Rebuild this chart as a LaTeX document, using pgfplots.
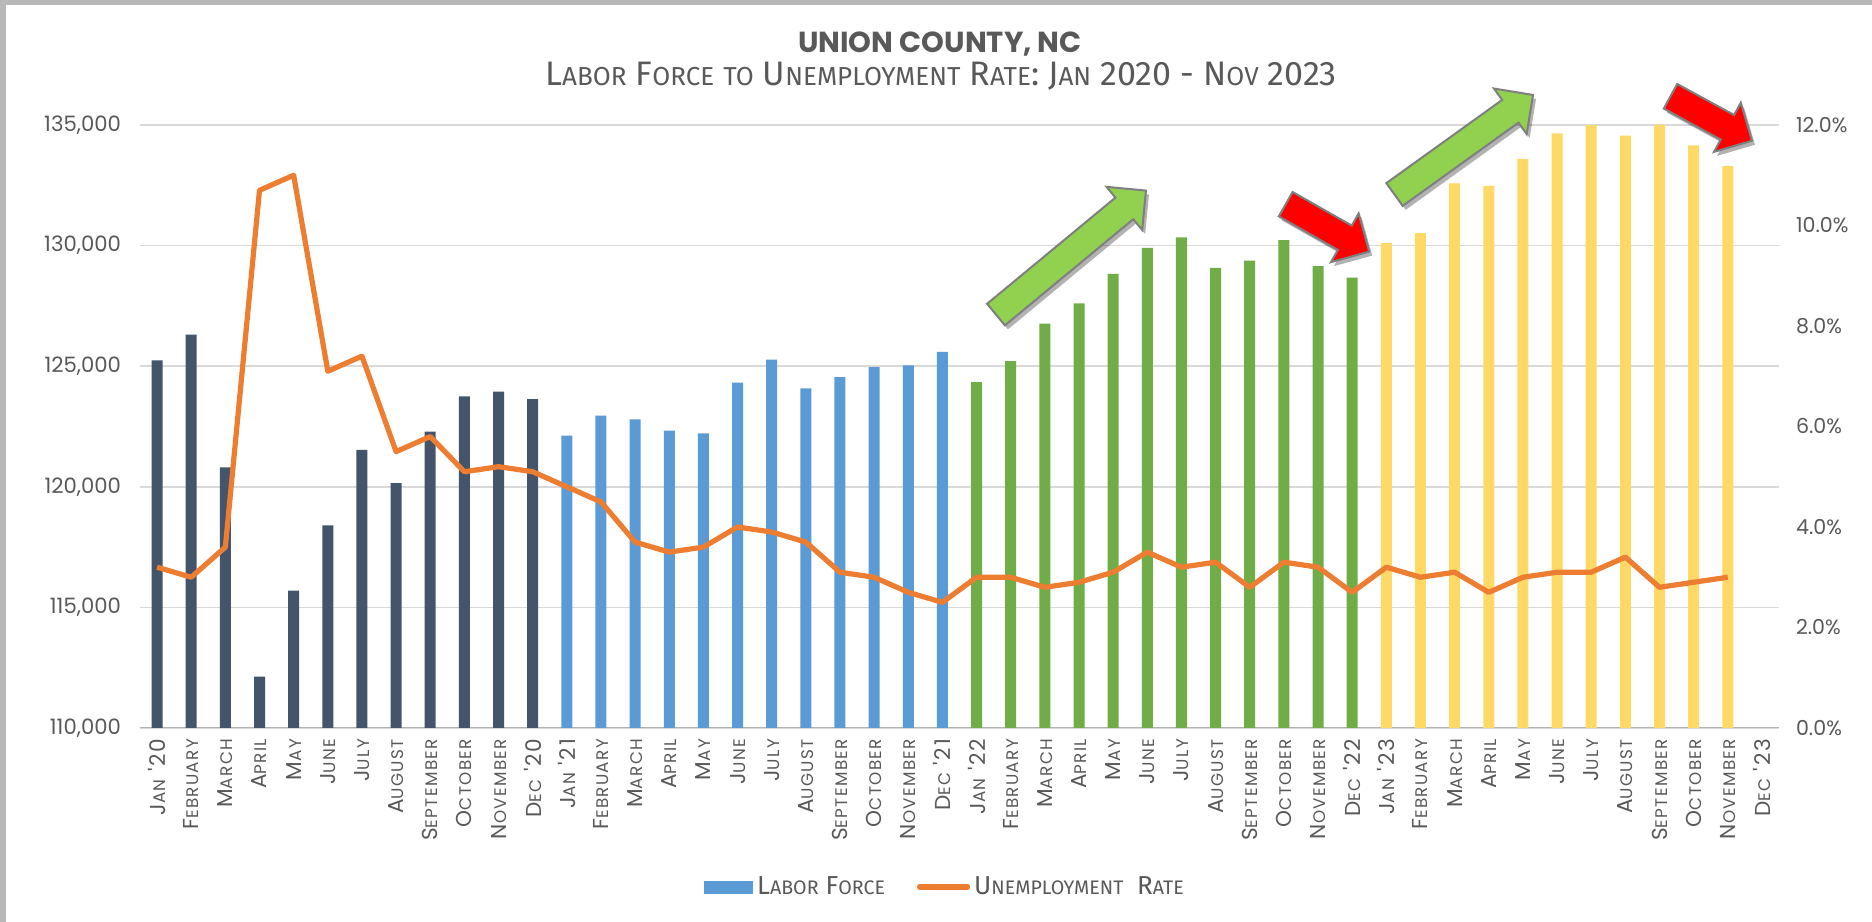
\documentclass[border=0pt]{standalone}
\usepackage{fontspec}
\setmainfont{Poppins}
\newfontfamily\subfont{Fira Sans}
\newfontfamily\tickfont[LetterSpace=8]{Poppins}
\usepackage{pgfplots}
\pgfplotsset{compat=1.18}
\usetikzlibrary{shadows}
\definecolor{navy}{HTML}{44546A}
\definecolor{lblue}{HTML}{5B9BD5}
\definecolor{lgreen}{HTML}{70AD47}
\definecolor{lyellow}{HTML}{FFD966}
\definecolor{lorange}{HTML}{ED7D31}
\definecolor{txt}{HTML}{595959}
\definecolor{gridc}{HTML}{D9D9D9}
\definecolor{agreen}{HTML}{92D050}
\definecolor{ared}{HTML}{FF0000}
\definecolor{agray}{HTML}{7F7F7F}

\newcommand{\fsc}[2]{#1{\fontsize{8.4bp}{9bp}\selectfont #2}}
\newcommand{\mJan}[1]{\fsc{J}{AN} '#1}
\newcommand{\mFeb}{\fsc{F}{EBRUARY}}
\newcommand{\mMar}{\fsc{M}{ARCH}}
\newcommand{\mApr}{\fsc{A}{PRIL}}
\newcommand{\mMay}{\fsc{M}{AY}}
\newcommand{\mJun}{\fsc{J}{UNE}}
\newcommand{\mJul}{\fsc{J}{ULY}}
\newcommand{\mAug}{\fsc{A}{UGUST}}
\newcommand{\mSep}{\fsc{S}{EPTEMBER}}
\newcommand{\mOct}{\fsc{O}{CTOBER}}
\newcommand{\mNov}{\fsc{N}{OVEMBER}}
\newcommand{\mDec}[1]{\fsc{D}{EC} '#1}
\newcommand{\ssc}[2]{#1{\fontsize{13bp}{15bp}\selectfont #2}}
\newcommand{\lsc}[2]{#1{\fontsize{9.8bp}{11bp}\selectfont #2}}

\newcommand{\blockarrow}[5]{%
  \draw[fill=#5, draw=agray, line width=1bp, line join=miter,
        drop shadow={opacity=0.3, shadow xshift=1.5bp, shadow yshift=-2bp, fill=black},
        shift={(#1bp,#2bp)}, rotate=#3]
   (0,-7bp) -- ({#4bp-14bp},-7bp) -- ({#4bp-14bp},-14bp) -- (#4bp,0)
   -- ({#4bp-14bp},14bp) -- ({#4bp-14bp},7bp) -- (0,7bp) -- cycle;}

\pgfplotstableread{
x y
0 125240
1 126310
2 120810
3 112130
4 115700
5 118400
6 121530
7 120150
8 122290
9 123750
10 123950
11 123630
}\tabA
\pgfplotstableread{
x y
12 122120
13 122950
14 122800
15 122330
16 122220
17 124320
18 125270
19 124080
20 124550
21 124960
22 125030
23 125590
}\tabB
\pgfplotstableread{
x y
24 124340
25 125210
26 126760
27 127600
28 128830
29 129910
30 130340
31 129080
32 129380
33 130230
34 129150
35 128670
}\tabC
\pgfplotstableread{
x y
36 130100
37 130520
38 132580
39 132480
40 133600
41 134650
42 134990
43 134560
44 135000
45 134160
46 133300
}\tabD
\pgfplotstableread{
x r
0 3.2
1 3.0
2 3.6
3 10.7
4 11.0
5 7.1
6 7.4
7 5.5
8 5.8
9 5.1
10 5.2
11 5.1
12 4.8
13 4.5
14 3.7
15 3.5
16 3.6
17 4.0
18 3.9
19 3.7
20 3.1
21 3.0
22 2.7
23 2.5
24 3.0
25 3.0
26 2.8
27 2.9
28 3.1
29 3.5
30 3.2
31 3.3
32 2.8
33 3.3
34 3.2
35 2.7
36 3.2
37 3.0
38 3.1
39 2.7
40 3.0
41 3.1
42 3.1
43 3.4
44 2.8
45 2.9
46 3.0
}\tabR

\begin{document}
\begin{tikzpicture}
\useasboundingbox (0,0) rectangle (936bp,461bp);
\fill[white] (0,0) rectangle (936bp,461bp);
\fill[black!28] (0,458.5bp) rectangle (936bp,461bp);
\fill[black!28] (0,0) rectangle (3bp,461bp);

\begin{axis}[
  at={(70bp,97bp)}, anchor=south west,
  scale only axis, width=819.5bp, height=301.5bp,
  xmin=-0.5, xmax=47.5, ymin=110000, ymax=135000,
  ytick={110000,115000,120000,125000,130000,135000},
  yticklabels={{110,000},{115,000},{120,000},{125,000},{130,000},{135,000}},
  scaled y ticks=false,
  ymajorgrids, grid style={draw=gridc, line width=0.75bp},
  axis line style={draw=none},
  major tick length=0pt,
  yticklabel style={font=\fontsize{10.6bp}{12bp}\selectfont, text=txt, xshift=-6bp},
  xtick={0,...,47},
  xticklabels={\mJan{20},\mFeb,\mMar,\mApr,\mMay,\mJun,\mJul,\mAug,\mSep,\mOct,\mNov,\mDec{20},
               \mJan{21},\mFeb,\mMar,\mApr,\mMay,\mJun,\mJul,\mAug,\mSep,\mOct,\mNov,\mDec{21},
               \mJan{22},\mFeb,\mMar,\mApr,\mMay,\mJun,\mJul,\mAug,\mSep,\mOct,\mNov,\mDec{22},
               \mJan{23},\mFeb,\mMar,\mApr,\mMay,\mJun,\mJul,\mAug,\mSep,\mOct,\mNov,\mDec{23}},
  xticklabel style={font=\tickfont\fontsize{10.8bp}{11bp}\selectfont, text=txt, rotate=90, anchor=east, xshift=-2bp},
]
\draw[black!30, line width=0.9bp] (axis cs:-0.5,110000) -- (axis cs:47.5,110000);
\addplot[ybar, bar width=5.5bp, bar shift=0pt, fill=navy, draw=none] table[x=x,y=y] {\tabA};
\addplot[ybar, bar width=5.5bp, bar shift=0pt, fill=lblue, draw=none] table[x=x,y=y] {\tabB};
\addplot[ybar, bar width=5.5bp, bar shift=0pt, fill=lgreen, draw=none] table[x=x,y=y] {\tabC};
\addplot[ybar, bar width=5.5bp, bar shift=0pt, fill=lyellow, draw=none] table[x=x,y=y] {\tabD};
\end{axis}

\begin{axis}[
  at={(70bp,97bp)}, anchor=south west,
  scale only axis, width=819.5bp, height=301.5bp,
  xmin=-0.5, xmax=47.5, ymin=0, ymax=12,
  axis y line*=right, axis x line=none,
  axis line style={draw=none},
  major tick length=0pt,
  ytick={0,2,4,6,8,10,12},
  yticklabels={0.0\%,2.0\%,4.0\%,6.0\%,8.0\%,10.0\%,12.0\%},
  yticklabel style={font=\fontsize{10.3bp}{12bp}\selectfont, text=txt, xshift=5bp},
  legend style={at={(0.4918,-0.2637)}, anchor=center, draw=none, fill=none,
     font=\subfont\fontsize{13bp}{14bp}\selectfont, text=txt,
     /tikz/every even column/.append style={column sep=14bp}},
  legend columns=2,
]
\addlegendimage{legend image code/.code={\fill[lblue] (0bp,-3bp) rectangle (24bp,3bp);}}
\addlegendentry{\lsc{L}{ABOR} \lsc{F}{ORCE}}
\addplot[lorange, line width=2.6bp, line join=round, mark=none,
  legend image code/.code={\draw[lorange, line width=2.6bp, line cap=round] (0bp,0bp) -- (24bp,0bp);}]
  table[x=x,y=r] {\tabR};
\addlegendentry{\lsc{U}{NEMPLOYMENT}\ \ \lsc{R}{ATE}}
\end{axis}

\node[font=\bfseries\fontsize{14.5bp}{16bp}\selectfont, text=txt] at (470bp,439bp) {UNION COUNTY, NC};
\node[font=\subfont\fontsize{17bp}{19bp}\selectfont, text=txt] at (470.5bp,423bp)
  {\ssc{L}{ABOR} \ssc{F}{ORCE} \ssc{}{TO} \ssc{U}{NEMPLOYMENT} \ssc{R}{ATE}: \ssc{J}{AN} 2020 - \ssc{N}{OV} 2023};

\blockarrow{498}{303.7}{39.6}{97.3}{agreen}
\blockarrow{642.85}{358.9}{-29.6}{48}{ared}
\blockarrow{697.25}{363.75}{35.7}{85.3}{agreen}
\blockarrow{835.25}{412.85}{-28.6}{46.4}{ared}
\end{tikzpicture}
\end{document}
